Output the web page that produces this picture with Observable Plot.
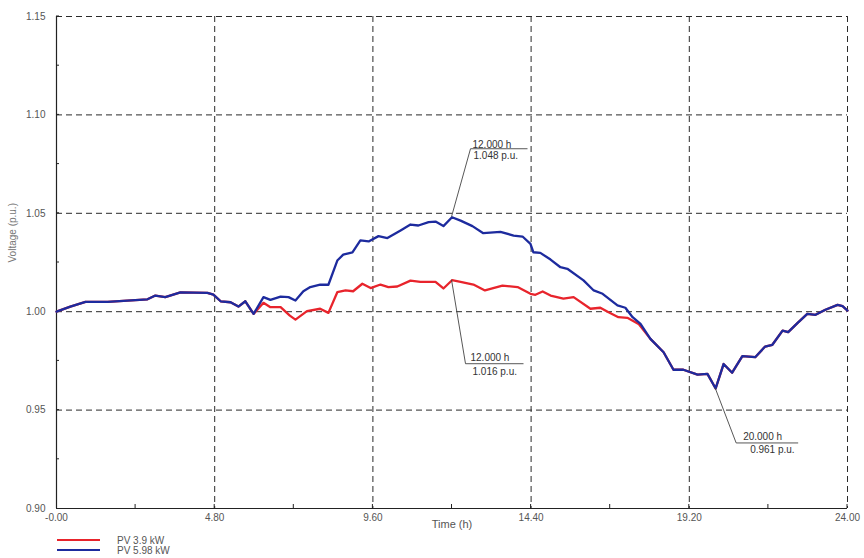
<!DOCTYPE html>
<html>
<head>
<meta charset="utf-8">
<script src="https://cdn.jsdelivr.net/npm/d3@7"></script>
<script src="https://cdn.jsdelivr.net/npm/@observablehq/plot@0.6"></script>
<style>
  html, body { margin: 0; padding: 0; background: #fff; }
  #chart { width: 864px; height: 558px; font-family: "Liberation Sans", Arial, sans-serif; }
  #chart svg { display: block; overflow: visible; }
</style>
</head>
<body>
<div id="chart"></div>
<script>
// Series: bus voltage over a day for two PV ratings
const seriesNames = ["PV 3.9 kW", "PV 5.98 kW"];
const seriesColors = ["#e8242c", "#1d2b9e"];

// PV 5.98 kW
const hoursHigh = [0, 0.42, 0.88, 1.55, 2.15, 2.76, 3.0, 3.3, 3.76, 4.58, 4.76, 4.98, 5.28, 5.52, 5.73, 5.98,
  6.28, 6.49, 6.8, 7.04, 7.25, 7.49, 7.7, 8.0, 8.25, 8.52, 8.7, 8.98, 9.22, 9.47, 9.77, 10.04, 10.44, 10.74,
  10.98, 11.29, 11.5, 11.74, 12.0, 12.26, 12.62, 12.95, 13.47, 13.87, 14.14, 14.38, 14.47, 14.68, 14.99,
  15.29, 15.5, 15.99, 16.3, 16.57, 17.02, 17.26, 17.48, 17.72, 18.02, 18.42, 18.72, 19.02, 19.45, 19.75,
  20.0, 20.24, 20.5, 20.81, 21.2, 21.5, 21.72, 22.03, 22.2, 22.48, 22.78, 23.03, 23.33, 23.7, 23.85, 24.0];
const voltsHigh = [1.000, 1.0026, 1.005, 1.005, 1.0056, 1.0063, 1.0082, 1.0074, 1.0098, 1.0096, 1.0087, 1.0053,
  1.0048, 1.0026, 1.0053, 0.9989, 1.0074, 1.006, 1.0077, 1.0074, 1.0057, 1.0104, 1.0125, 1.0137, 1.0137,
  1.026, 1.029, 1.0302, 1.0362, 1.0357, 1.0384, 1.0374, 1.0413, 1.0443, 1.0438, 1.0455, 1.0458, 1.0435,
  1.048, 1.0463, 1.0435, 1.0399, 1.0406, 1.0387, 1.0382, 1.0345, 1.0302, 1.0299, 1.0265, 1.0226, 1.0218,
  1.0159, 1.0108, 1.0091, 1.0032, 1.002, 0.9972, 0.9938, 0.9862, 0.9794, 0.9705, 0.9705, 0.968, 0.9684,
  0.961, 0.9734, 0.969, 0.9774, 0.9769, 0.9823, 0.9832, 0.9904, 0.9896, 0.9942, 0.9989, 0.9984, 1.001,
  1.0035, 1.0028, 1.0006];

// PV 3.9 kW
const hoursLow = [0, 0.42, 0.88, 1.55, 2.15, 2.76, 3.0, 3.3, 3.76, 4.58, 4.76, 4.98, 5.28, 5.52, 5.73, 5.98,
  6.28, 6.49, 6.8, 7.08, 7.25, 7.6, 8.0, 8.25, 8.52, 8.77, 9.0, 9.28, 9.53, 9.83, 10.07, 10.34, 10.74, 11.04,
  11.5, 11.74, 12.0, 12.26, 12.65, 13.0, 13.53, 13.99, 14.38, 14.53, 14.75, 14.99, 15.38, 15.69, 16.2, 16.5,
  16.75, 17.05, 17.32, 17.66, 18.02, 18.42, 18.72, 19.02, 19.45, 19.75, 20.0, 20.24, 20.5, 20.81, 21.2,
  21.5, 21.72, 22.03, 22.2, 22.48, 22.78, 23.03, 23.33, 23.7, 23.85, 24.0];
const voltsLow = [1.000, 1.0026, 1.005, 1.005, 1.0056, 1.0063, 1.0082, 1.0074, 1.0098, 1.0096, 1.0087, 1.0053,
  1.0048, 1.0026, 1.0053, 0.9989, 1.0045, 1.0023, 1.0023, 0.998, 0.996, 1.0003, 1.0015, 0.9994, 1.0099,
  1.0108, 1.0104, 1.0142, 1.012, 1.0138, 1.0125, 1.0128, 1.0158, 1.0152, 1.0152, 1.0118, 1.016, 1.0152,
  1.0138, 1.0108, 1.0133, 1.0125, 1.0091, 1.0086, 1.0103, 1.0082, 1.0066, 1.0074, 1.0015, 1.002, 0.9997,
  0.9972, 0.9969, 0.9938, 0.9862, 0.9794, 0.9705, 0.9705, 0.968, 0.9684, 0.961, 0.9734, 0.969, 0.9774,
  0.9769, 0.9823, 0.9832, 0.9904, 0.9896, 0.9942, 0.9989, 0.9984, 1.001, 1.0035, 1.0028, 1.0006];

// Axes
const xTicks = [0, 4.8, 9.6, 14.4, 19.2, 24];
const xTickLabels = ["-0.00", "4.80", "9.60", "14.40", "19.20", "24.00"];
const xMinorTicks = [2.4, 7.2, 12, 16.8, 21.6];
const yTicks = [0.90, 0.95, 1.00, 1.05, 1.10, 1.15];
const yTickLabels = ["0.90", "0.95", "1.00", "1.05", "1.10", "1.15"];
const yMinorTicks = [0.925, 0.975, 1.025, 1.075, 1.125];
const xTitle = "Time (h)";
const yTitle = "Voltage (p.u.)";

// Marked points (time h, voltage p.u.)
const calloutHours = [12, 12, 20];
const calloutVolts = [1.048, 1.016, 0.961];

// Leader geometry in pixels relative to each marked point: elbow, underline length, text offsets
const calloutLayout = [
  {ex: 19, ey: -68, len: 57, t1: [21, -72], t2: [22, -61]},
  {ex: 14, ey: 84, len: 58, t1: [19, 78], t2: [21, 92]},
  {ex: 21, ey: 55, len: 62, t1: [28, 49], t2: [35, 62]}
];

const rowsLow = hoursLow.map((h, i) => ({hour: h, volt: voltsLow[i]}));
const rowsHigh = hoursHigh.map((h, i) => ({hour: h, volt: voltsHigh[i]}));

const gridStyle = {stroke: "#2a2a2a", strokeWidth: 1, strokeDasharray: "6,4"};
const fontFamily = "'Liberation Sans', Arial, sans-serif";

// Short inward ticks on the left and bottom axis lines
function axisTicks(index, scales) {
  const {x, y} = scales;
  const g = d3.create("svg:g").attr("stroke", "#222").attr("stroke-width", 1);
  const y0 = y(0.9), x0 = x(0);
  for (const t of [...xTicks.slice(1), ...xMinorTicks]) {
    g.append("line").attr("x1", x(t)).attr("x2", x(t)).attr("y1", y0).attr("y2", y0 - 4);
  }
  for (const t of [...yTicks.slice(1), ...yMinorTicks]) {
    g.append("line").attr("x1", x0).attr("x2", x0 + 3).attr("y1", y(t)).attr("y2", y(t));
  }
  return g.node();
}

// Leader lines with time / voltage labels
function callouts(index, scales) {
  const {x, y} = scales;
  const g = d3.create("svg:g");
  calloutHours.forEach((h, i) => {
    const L = calloutLayout[i];
    const px = x(h), py = y(calloutVolts[i]);
    g.append("path")
      .attr("fill", "none").attr("stroke", "#444").attr("stroke-width", 0.9)
      .attr("d", `M${px},${py}L${px + L.ex},${py + L.ey}H${px + L.ex + L.len}`);
    const txt = g.append("g").attr("fill", "#333").attr("font-size", 10)
      .attr("text-anchor", "start").attr("font-family", fontFamily);
    txt.append("text").attr("x", px + L.t1[0]).attr("y", py + L.t1[1]).attr("dy", "0.32em")
      .text(`${h.toFixed(3)} h`);
    txt.append("text").attr("x", px + L.t2[0]).attr("y", py + L.t2[1]).attr("dy", "0.32em")
      .text(`${calloutVolts[i].toFixed(3)} p.u.`);
  });
  return g.node();
}

const chart = Plot.plot({
  width: 864,
  height: 536,
  marginLeft: 56,
  marginRight: 17,
  marginTop: 16,
  marginBottom: 28,
  style: {fontFamily, fontSize: "10px", color: "#555", background: "#fff"},
  x: {
    domain: [0, 24], ticks: xTicks, tickSize: 0, tickPadding: 5,
    tickFormat: d => xTickLabels[xTicks.indexOf(d)],
    label: null
  },
  y: {
    domain: [0.9, 1.15], ticks: yTicks, tickSize: 0, tickPadding: 11,
    tickFormat: d => yTickLabels[yTicks.indexOf(d)],
    label: null
  },
  marks: [
    Plot.ruleY(yTicks.slice(1), gridStyle),
    Plot.ruleX(xTicks.slice(1), gridStyle),
    Plot.ruleX([0], {stroke: "#222", strokeWidth: 1.2}),
    Plot.ruleY([0.9], {stroke: "#222", strokeWidth: 1.2}),
    axisTicks,
    Plot.line(rowsLow, {x: "hour", y: "volt", stroke: seriesColors[0], strokeWidth: 2.3}),
    Plot.line(rowsHigh, {x: "hour", y: "volt", stroke: seriesColors[1], strokeWidth: 2.3}),
    callouts,
    Plot.text([xTitle], {frameAnchor: "bottom", dy: 19, fontSize: 11, fill: "#555", text: d => d}),
    Plot.text([yTitle], {frameAnchor: "left", dx: -44, rotate: -90, fontSize: 10, fill: "#777", text: d => d})
  ]
});

const root = document.getElementById("chart");
root.appendChild(chart);

// Legend below the plot
const legend = d3.select(root).append("svg")
  .attr("width", 864).attr("height", 22)
  .style("display", "block");
seriesNames.forEach((name, i) => {
  const row = legend.append("g").attr("transform", `translate(0,${4 + i * 10})`);
  row.append("line").attr("x1", 57).attr("x2", 100).attr("y1", 0).attr("y2", 0)
    .attr("stroke", seriesColors[i]).attr("stroke-width", 2);
  row.append("text").attr("x", 117).attr("y", 0).attr("dy", "0.35em")
    .attr("font-size", 10).attr("fill", "#555")
    .attr("font-family", fontFamily)
    .text(name);
});
</script>
</body>
</html>
